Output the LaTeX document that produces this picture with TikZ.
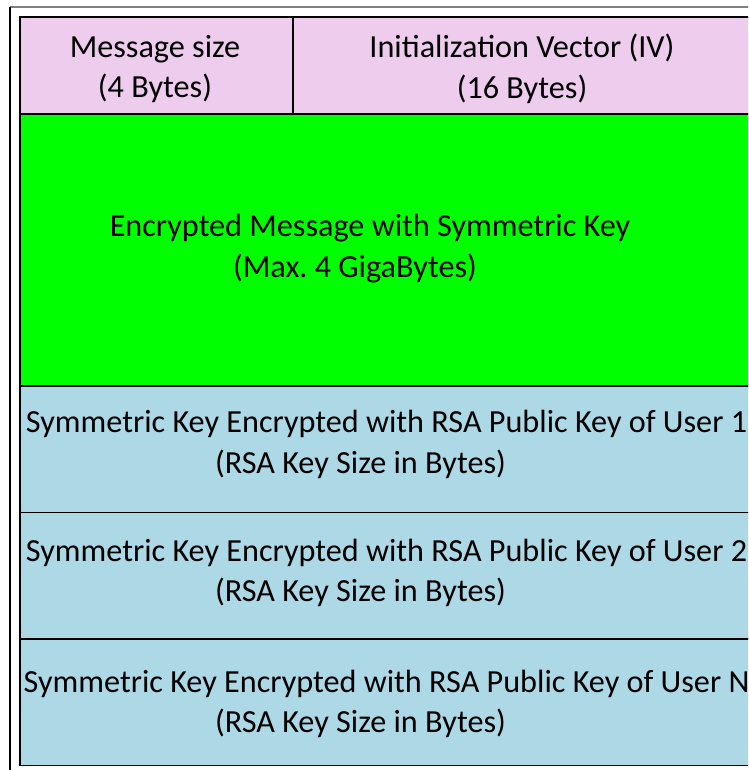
\documentclass[tikz,border=0pt]{standalone}
\usepackage{fontspec}
\setmainfont{Carlito}
\definecolor{hdrpink}{RGB}{238,204,238}
\definecolor{msggreen}{RGB}{0,255,0}
\definecolor{keyblue}{RGB}{173,216,230}
\tikzset{
  cell/.style={draw, line width=1.5pt, inner sep=0pt},
  celltext/.style={align=center, inner sep=0pt, font=\fontsize{32.2}{40.5}\selectfont}
}
\begin{document}
\begin{tikzpicture}[x=1pt,y=-1pt]
\useasboundingbox (0,0) rectangle (748,770);
\clip (0,0) rectangle (748,770);
\fill[white] (0,0) rectangle (748,770);
% frame round the table
\coordinate (tl) at (10,7);
\coordinate (tr) at (760,7);
\coordinate (bl) at (10,780);
\draw[gray, line width=1.5pt] (tl) -- (tr);
\draw[line width=1.2pt] (tl) -- (bl);
% header row
\node[cell, fill=hdrpink, minimum width=273, minimum height=97] (size) at (156.5,65.5) {};
\node[cell, fill=hdrpink, minimum width=460, minimum height=97] (iv) at (523,65.5) {};
\node[celltext] (sizetext) at (155,69) {Message size\\(4 Bytes)};
\node[celltext] (ivtext) at (522,69) {Initialization Vector (IV)\\(16 Bytes)};
% message
\node[cell, fill=msggreen, minimum width=733, minimum height=272] (msg) at (386.5,250) {};
\node[celltext] (msgtext) at (370,248.5) {Encrypted Message with Symmetric Key\\(Max.\ 4 GigaBytes)\hspace*{30pt}};
% one key block per user
\foreach \i/\yc/\ty/\who in {1/449/444.5/1, 2/575.5/573/2, 3/702/704/N} {
  \node[cell, fill=keyblue, minimum width=733, minimum height=126.5] (key\i) at (386.5,\yc) {};
  \node[celltext] (keytext\i) at (386.5,\ty) {Symmetric Key Encrypted with RSA Public Key of User \who\\(RSA Key Size in Bytes)\hspace*{52pt}};
}
\end{tikzpicture}
\end{document}
